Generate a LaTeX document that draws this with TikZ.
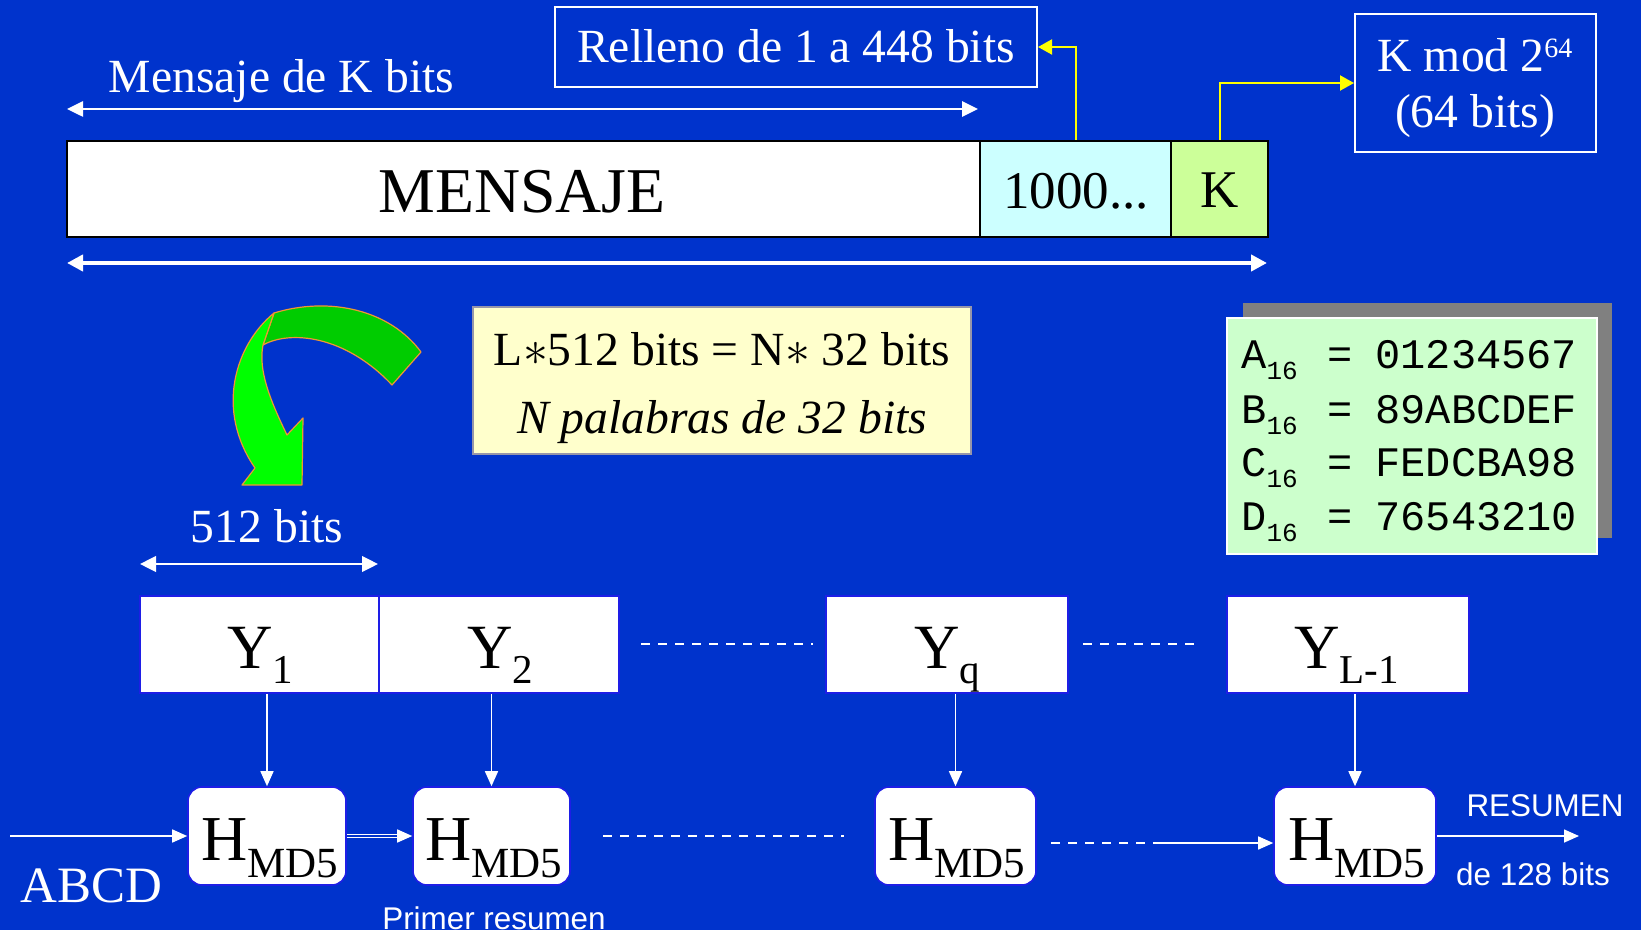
\documentclass[tikz,border=0pt]{standalone}
\usepackage{fontspec}
\setmainfont{Liberation Serif}
\newfontfamily\arialf{Liberation Sans}
\newfontfamily\courf{Liberation Mono}
\usetikzlibrary{arrows.meta}
\definecolor{bgblue}{RGB}{0,51,204}
\definecolor{padcol}{RGB}{204,255,255}
\definecolor{kcol}{RGB}{204,255,153}
\definecolor{lyellow}{RGB}{255,255,204}
\definecolor{lgreen}{RGB}{204,255,204}
\definecolor{shadowgray}{RGB}{128,128,128}
\definecolor{ylw}{RGB}{255,255,0}
\definecolor{darkg}{RGB}{0,204,0}
\definecolor{lightg}{RGB}{0,255,0}
\definecolor{orangeline}{RGB}{240,150,50}
\definecolor{boxblue}{RGB}{30,30,230}
\newcommand{\fs}[1]{\fontsize{#1}{#1}\selectfont}
\begin{document}
\begin{tikzpicture}[x=0.5pt,y=-0.5pt,
  txt/.style={inner sep=0pt, anchor=base},
  wtxt/.style={inner sep=0pt, anchor=base, text=white},
  btxt/.style={inner sep=0pt, anchor=base west},
  barbox/.style={draw=black, line width=1pt, inner sep=0pt, minimum height=48pt},
  outbox/.style={draw=white, line width=1pt, inner sep=0pt},
  ybox/.style={draw=boxblue, fill=white, line width=0.8pt, inner sep=0pt, minimum height=48.5pt},
  hbox/.style={draw=boxblue, fill=white, rounded corners=7pt, line width=0.8pt, inner sep=0pt, minimum height=49pt},
  dimA/.style={white, line width=1.3pt, {Triangle[length=8pt,width=7.5pt]}-{Triangle[length=8pt,width=7.5pt]}},
  dimB/.style={white, line width=2pt, {Triangle[length=8pt,width=8pt]}-{Triangle[length=8pt,width=8pt]}},
  dimC/.style={white, line width=1pt, {Triangle[length=8pt,width=7.8pt]}-{Triangle[length=8pt,width=7.8pt]}},
  yarrow/.style={ylw, line width=1pt, -{Triangle[length=7pt,width=7.5pt]}},
  thinarr/.style={white, line width=0.75pt, -{Triangle[length=7.5pt,width=6.5pt]}},
  dashline/.style={white, line width=1pt, dash pattern=on 4.5pt off 4pt},
  ribbon/.style={draw=orangeline, line width=0.6pt, line join=round}
]
\useasboundingbox (0,0) rectangle (1641,930);
\fill[bgblue] (0,0) rectangle (1641,930);

% ---------- top bar ----------
\node[barbox, fill=white, minimum width=456.5pt] (msg) at (523.5,189) {};
\node[barbox, fill=padcol, minimum width=95.5pt] (pad) at (1075.5,189) {};
\node[barbox, fill=kcol, minimum width=48.5pt] (kbox) at (1219.5,189) {};
\node[txt] (tmensaje) at (522,213) {\fs{31.9pt}MENSAJE};
\node[txt] (t1000) at (1076,209) {\fs{26.5pt}1000...};
\node[txt] (tk) at (1220,208) {\fs{26.5pt}K};

\node[wtxt] (tmsgk) at (281.5,93) {\fs{23.8pt}Mensaje de K bits};
\coordinate (da) at (67,109);
\coordinate (db) at (978,109);
\draw[dimA] (da) -- (db);
\coordinate (ba) at (67,263);
\coordinate (bb) at (1267,263);
\draw[dimB] (ba) -- (bb);

\node[outbox, minimum width=241pt, minimum height=40pt] (rel) at (796,47) {};
\node[wtxt] (trel) at (796,63) {\fs{23.8pt}Relleno de 1 a 448 bits};
\node[outbox, minimum width=120.5pt, minimum height=69pt] (kmod) at (1475.5,83) {};
\node[wtxt] (tkmod) at (1475,72) {\fs{23.8pt}K mod 2\raisebox{7pt}{\fs{14pt}64}};
\node[wtxt] (t64) at (1475,128) {\fs{23.8pt}(64 bits)};

\draw[yarrow] (pad.north) |- (rel.east);
\draw[yarrow] (kbox.north) |- (kmod.west);

% ---------- green curved arrow ----------
\filldraw[ribbon, fill=darkg] (421,352) .. controls (390,310) and (330,296) .. (274,313)
  -- (263,345) .. controls (290,330) and (345,335) .. (392,385) -- cycle;
\filldraw[ribbon, fill=lightg] (274,313) .. controls (235,345) and (215,410) .. (255,468)
  -- (242,485) -- (302,485) -- (303,418) -- (287,435)
  .. controls (270,400) and (258,370) .. (263,345) -- cycle;

% ---------- yellow note ----------
\node[draw={rgb,255:red,150;green,150;blue,170}, line width=0.6pt, fill=lyellow, inner sep=0pt,
  minimum width=249pt, minimum height=73.5pt] (note) at (722,380.5) {};
\node[txt] (tl1) at (722,365) {\fs{23.8pt}L$\ast$512 bits = N$\ast$ 32 bits};
\node[txt] (tl2) at (722,433) {\fs{23.8pt}\itshape N palabras de 32 bits};

% ---------- constants box ----------
\node[fill=shadowgray, inner sep=0pt, minimum width=184.5pt, minimum height=117.5pt] (shad) at (1427.5,420.5) {};
\node[draw=white, line width=0.8pt, fill=lgreen, inner sep=0pt, minimum width=185pt, minimum height=118pt] (cbox) at (1412,436) {};
\node[btxt] (ca) at (1241,368) {\courf\fs{21pt}\makebox[32pt][l]{A\raisebox{-5.5pt}{\fs{13pt}16}}\makebox[35pt][c]{=}01234567};
\node[btxt] (cb) at (1241,423) {\courf\fs{21pt}\makebox[32pt][l]{B\raisebox{-5.5pt}{\fs{13pt}16}}\makebox[35pt][c]{=}89ABCDEF};
\node[btxt] (cc) at (1241,476) {\courf\fs{21pt}\makebox[32pt][l]{C\raisebox{-5.5pt}{\fs{13pt}16}}\makebox[35pt][c]{=}FEDCBA98};
\node[btxt] (cd) at (1241,530) {\courf\fs{21pt}\makebox[32pt][l]{D\raisebox{-5.5pt}{\fs{13pt}16}}\makebox[35pt][c]{=}76543210};

% ---------- 512 bits ----------
\node[wtxt] (t512) at (267,542) {\fs{23.8pt}512 bits};
\coordinate (sa) at (140,564);
\coordinate (sb) at (378,564);
\draw[dimC] (sa) -- (sb);

% ---------- Y blocks ----------
\node[ybox, minimum width=119.5pt] (y1) at (259.5,644.5) {};
\node[ybox, minimum width=120pt] (y2) at (499,644.5) {};
\node[ybox, minimum width=121pt] (yq) at (947,644.5) {};
\node[ybox, minimum width=121pt] (yl) at (1348,644.5) {};
\node[btxt] (ty1) at (227,668) {\fs{31.5pt}Y\raisebox{-7.5pt}{\fs{20.5pt}1}};
\node[btxt] (ty2) at (467,668) {\fs{31.5pt}Y\raisebox{-7.5pt}{\fs{20.5pt}2}};
\node[btxt] (tyq) at (914,668) {\fs{31.5pt}Y\raisebox{-7.5pt}{\fs{20.5pt}q}};
\node[btxt] (tyl) at (1294,668) {\fs{31.5pt}Y\raisebox{-7.5pt}{\fs{20.5pt}L-1}};

\coordinate (ya) at (641,644);
\coordinate (yb) at (813,644);
\coordinate (yc) at (1083,644);
\coordinate (yd) at (1201,644);
\draw[dashline] (ya) -- (yb);
\draw[dashline] (yc) -- (yd);

% ---------- H blocks ----------
\node[hbox, minimum width=79pt] (h1) at (267,836) {};
\node[hbox, minimum width=78.5pt] (h2) at (491.5,836) {};
\node[hbox, minimum width=80.5pt] (h3) at (955.5,836) {};
\node[hbox, minimum width=81pt] (h4) at (1355,836) {};
\node[btxt] (th1) at (201,860) {\fs{32pt}H\raisebox{-8.5pt}{\fs{21.5pt}MD5}};
\node[btxt] (th2) at (425,860) {\fs{32pt}H\raisebox{-8.5pt}{\fs{21.5pt}MD5}};
\node[btxt] (th3) at (888,860) {\fs{32pt}H\raisebox{-8.5pt}{\fs{21.5pt}MD5}};
\node[btxt] (th4) at (1288,860) {\fs{32pt}H\raisebox{-8.5pt}{\fs{21.5pt}MD5}};

\draw[thinarr] (y1.south -| h1.north) -- (h1.north);
\draw[thinarr] (y2.south -| h2.north) -- (h2.north);
\draw[thinarr] (yq.south -| h3.north) -- (h3.north);
\draw[thinarr] (yl.south -| h4.north) -- (h4.north);

\coordinate (abc) at (10,836);
\draw[thinarr] (abc) -- (h1.west);
\coordinate (dd) at (398,836);
\draw[white, line width=0.6pt, double=bgblue, double distance=1.2pt] (h1.east) -- (dd);
\draw[thinarr] (dd) -- (h2.west);
\coordinate (ha) at (603,836);
\coordinate (hb) at (844,836);
\draw[dashline] (ha) -- (hb);
\coordinate (hc) at (1051,843);
\coordinate (hd) at (1155,843);
\draw[dashline] (hc) -- (hd);
\draw[thinarr] (hd) -- (h4.west |- hd);
\coordinate (outend) at (1579,836);
\draw[thinarr] (h4.east) -- (outend);

\node[wtxt] (tabcd) at (91.5,902) {\fs{25.5pt}ABCD};
\node[wtxt] (tres) at (1545,816) {\arialf\fs{15.7pt}RESUMEN};
\node[wtxt] (t128) at (1533,885) {\arialf\fs{15.7pt}de 128 bits};
\node[wtxt] (tprim) at (494,929) {\arialf\fs{15.7pt}Primer resumen};
\end{tikzpicture}
\end{document}
